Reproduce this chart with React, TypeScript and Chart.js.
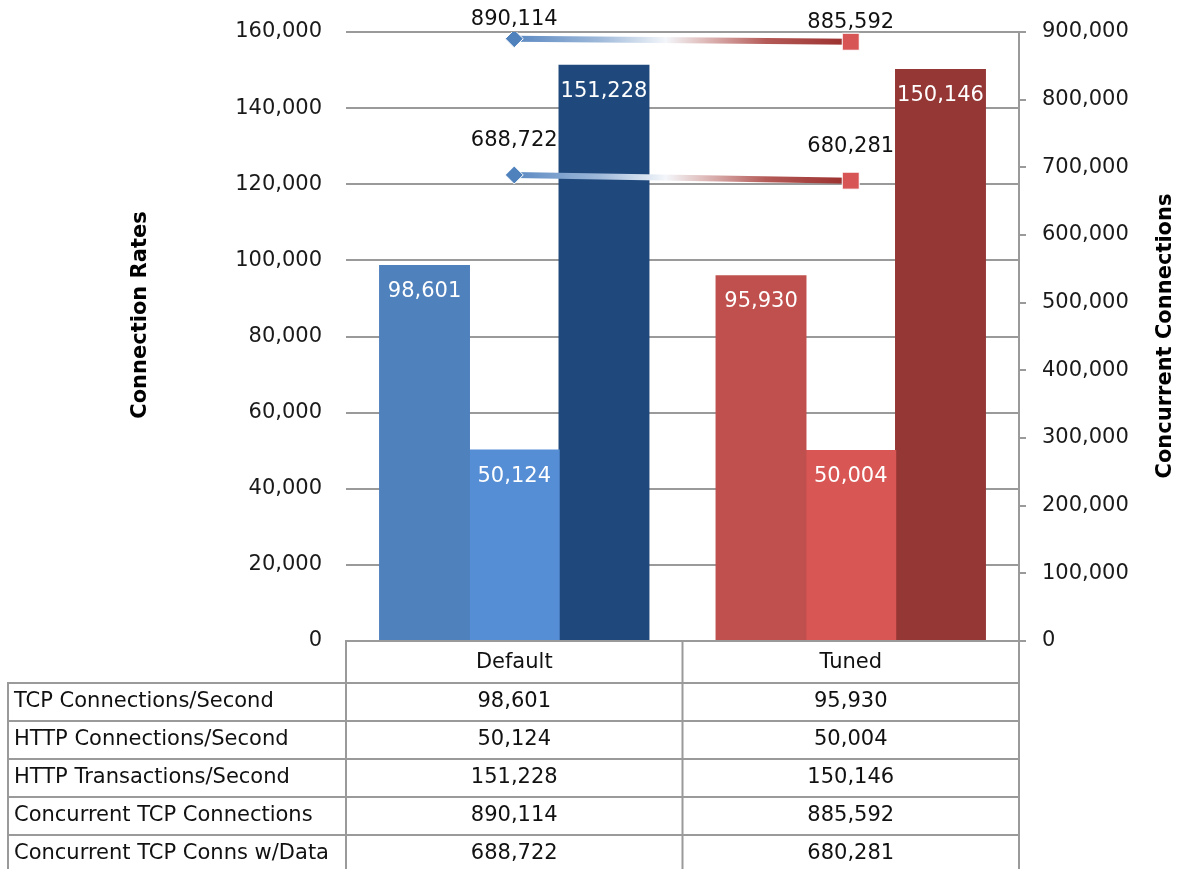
import React, { useEffect, useRef } from 'react';
import { Chart, registerables } from 'chart.js';

Chart.register(...registerables);

const categories = ['Default', 'Tuned'];
const tcpConnPerSec = [98601, 95930];
const httpConnPerSec = [50124, 50004];
const httpTransPerSec = [151228, 150146];
const concurrentTcp = [890114, 885592];
const concurrentTcpData = [688722, 680281];
const seriesNames = [
  'TCP Connections/Second',
  'HTTP Connections/Second',
  'HTTP Transactions/Second',
  'Concurrent TCP Connections',
  'Concurrent TCP Conns w/Data',
];
const leftAxis = { max: 160000, step: 20000, title: 'Connection Rates' };
const rightAxis = { max: 900000, step: 100000, title: 'Concurrent Connections' };

const FONT = 'DejaVu Sans';
const GRID = '#9a9a9a';
const fmt = (v: number) => v.toLocaleString('en-US');

const ribbon = (ctx: any) => {
  const chart = ctx.chart;
  const area = chart.chartArea;
  if (!area) return '#4f81bd';
  const xs = chart.scales.x;
  const x0 = xs.getPixelForValue(0);
  const x1 = xs.getPixelForValue(1);
  const g = chart.ctx.createLinearGradient(x0, 0, x1, 0);
  g.addColorStop(0, '#5b89c2');
  g.addColorStop(0.25, '#9db8d9');
  g.addColorStop(0.45, '#f3f6fa');
  g.addColorStop(0.55, '#e2c3c2');
  g.addColorStop(0.75, '#b45a57');
  g.addColorStop(1, '#9a2e2c');
  return g;
};

const labelPlugin = {
  id: 'valueLabels',
  afterDatasetsDraw(chart: any) {
    const { ctx } = chart;
    ctx.save();
    ctx.font = `21px "${FONT}"`;
    ctx.textAlign = 'center';
    ctx.textBaseline = 'middle';
    chart.data.datasets.forEach((ds: any, i: number) => {
      const meta = chart.getDatasetMeta(i);
      meta.data.forEach((el: any, j: number) => {
        const v = ds.data[j];
        if (ds.type === 'line') {
          ctx.fillStyle = '#111111';
          ctx.fillText(fmt(v), el.x, el.y - ds.labelOffset);
        } else {
          ctx.fillStyle = '#ffffff';
          ctx.fillText(fmt(v), el.x, el.y + 26);
        }
      });
    });
    ctx.restore();
  },
};

const titlePlugin = {
  id: 'axisTitles',
  afterDraw(chart: any) {
    const { ctx } = chart;
    ctx.save();
    ctx.font = `bold 21px "${FONT}"`;
    ctx.fillStyle = '#000000';
    ctx.textAlign = 'center';
    ctx.textBaseline = 'middle';
    const draw = (t: string, x: number, y: number) => {
      ctx.save();
      ctx.translate(x, y);
      ctx.rotate(-Math.PI / 2);
      ctx.fillText(t, 0, 0);
      ctx.restore();
    };
    draw(leftAxis.title, 141, 315);
    draw(rightAxis.title, 1166, 336);
    ctx.restore();
  },
};

const tablePlugin = {
  id: 'dataTable',
  afterDraw(chart: any) {
    const { ctx, chartArea } = chart;
    const labels: string[] = chart.data.labels;
    const left = chartArea.left;
    const right = chartArea.right;
    const colW = (right - left) / labels.length;
    const top = chartArea.bottom;
    const headerH = 42;
    const rowH = 38;
    const tableLeft = 8;
    ctx.save();
    ctx.strokeStyle = GRID;
    ctx.lineWidth = 2;
    ctx.strokeRect(left, top, right - left, headerH);
    for (let c = 1; c < labels.length; c++) {
      ctx.beginPath();
      ctx.moveTo(left + c * colW, top);
      ctx.lineTo(left + c * colW, top + headerH);
      ctx.stroke();
    }
    ctx.font = `21px "${FONT}"`;
    ctx.fillStyle = '#111111';
    ctx.textBaseline = 'middle';
    ctx.textAlign = 'center';
    labels.forEach((l, c) => ctx.fillText(l, left + c * colW + colW / 2, top + headerH / 2 + 1));
    const rows = [...chart.data.datasets].sort((a: any, b: any) => a.tableRow - b.tableRow);
    rows.forEach((ds: any, r: number) => {
      const y = top + headerH + r * rowH;
      ctx.strokeRect(tableLeft, y, right - tableLeft, rowH);
      ctx.beginPath();
      ctx.moveTo(left, y);
      ctx.lineTo(left, y + rowH);
      for (let c = 1; c < labels.length; c++) {
        ctx.moveTo(left + c * colW, y);
        ctx.lineTo(left + c * colW, y + rowH);
      }
      ctx.stroke();
      ctx.textAlign = 'left';
      ctx.fillText(ds.label, tableLeft + 6, y + rowH / 2);
      ctx.textAlign = 'center';
      ds.data.forEach((v: number, c: number) => {
        ctx.fillText(fmt(v), left + c * colW + colW / 2, y + rowH / 2);
      });
    });
    ctx.restore();
  },
};

export default function App() {
  const ref = useRef<HTMLCanvasElement | null>(null);
  useEffect(() => {
    if (!ref.current) return;
    const chart = new Chart(ref.current, {
      type: 'bar',
      data: {
        labels: categories,
        datasets: [
          {
            type: 'bar', label: seriesNames[0], data: tcpConnPerSec, yAxisID: 'y', order: 2, tableRow: 0,
            backgroundColor: ['#4f81bd', '#c0504d'],
          } as any,
          {
            type: 'bar', label: seriesNames[1], data: httpConnPerSec, yAxisID: 'y', order: 2, tableRow: 1,
            backgroundColor: ['#558ed5', '#d85654'],
          } as any,
          {
            type: 'bar', label: seriesNames[2], data: httpTransPerSec, yAxisID: 'y', order: 2, tableRow: 2,
            backgroundColor: ['#1f497d', '#953735'],
          } as any,
          {
            type: 'line', label: seriesNames[3], data: concurrentTcp, yAxisID: 'y1', order: 1, tableRow: 3,
            labelOffset: 19, borderColor: ribbon, borderWidth: 6, fill: false,
            pointStyle: ['rectRot', 'rect'], pointRadius: [9, 12],
            pointBackgroundColor: ['#4f81bd', '#d75555'], pointBorderColor: '#ffffff', pointBorderWidth: 1,
          } as any,
          {
            type: 'line', label: seriesNames[4], data: concurrentTcpData, yAxisID: 'y1', order: 1, tableRow: 4,
            labelOffset: 34, borderColor: ribbon, borderWidth: 6, fill: false,
            pointStyle: ['rectRot', 'rect'], pointRadius: [9, 12],
            pointBackgroundColor: ['#4f81bd', '#d75555'], pointBorderColor: '#ffffff', pointBorderWidth: 1,
          } as any,
        ],
      },
      options: {
        responsive: false,
        animation: false,
        devicePixelRatio: 1,
        layout: { autoPadding: false, padding: { left: 0, right: 0, top: 32, bottom: 228 } },
        datasets: { bar: { categoryPercentage: 0.8, barPercentage: 1.0, inflateAmount: 0.6 } },
        plugins: { legend: { display: false }, tooltip: { enabled: false } },
        scales: {
          x: { display: false },
          y: {
            position: 'left', min: 0, max: leftAxis.max,
            afterFit: (s: any) => { s.width = 346; s.paddingTop = 0; s.paddingBottom = 0; },
            ticks: {
              stepSize: leftAxis.step, padding: 24, color: '#1a1a1a',
              font: { family: FONT, size: 21 }, callback: (v: any) => fmt(Number(v)),
            },
            grid: { color: GRID, lineWidth: 2, drawTicks: false },
            border: { display: false },
          },
          y1: {
            position: 'right', min: 0, max: rightAxis.max,
            afterFit: (s: any) => { s.width = 160; s.paddingTop = 0; s.paddingBottom = 0; },
            ticks: {
              stepSize: rightAxis.step, padding: 16, color: '#1a1a1a',
              font: { family: FONT, size: 21 }, callback: (v: any) => fmt(Number(v)),
            },
            grid: { drawOnChartArea: false, drawTicks: true, tickLength: 7, color: GRID, lineWidth: 2 },
            border: { display: true, color: GRID, width: 2 },
          },
        },
      } as any,
      plugins: [labelPlugin, titlePlugin, tablePlugin],
    });
    return () => chart.destroy();
  }, []);
  return (
    <div style={{ position: 'absolute', left: 0, top: 0, width: 1179, height: 869, background: '#fff' }}>
      <canvas ref={ref} width={1179} height={869} />
    </div>
  );
}
